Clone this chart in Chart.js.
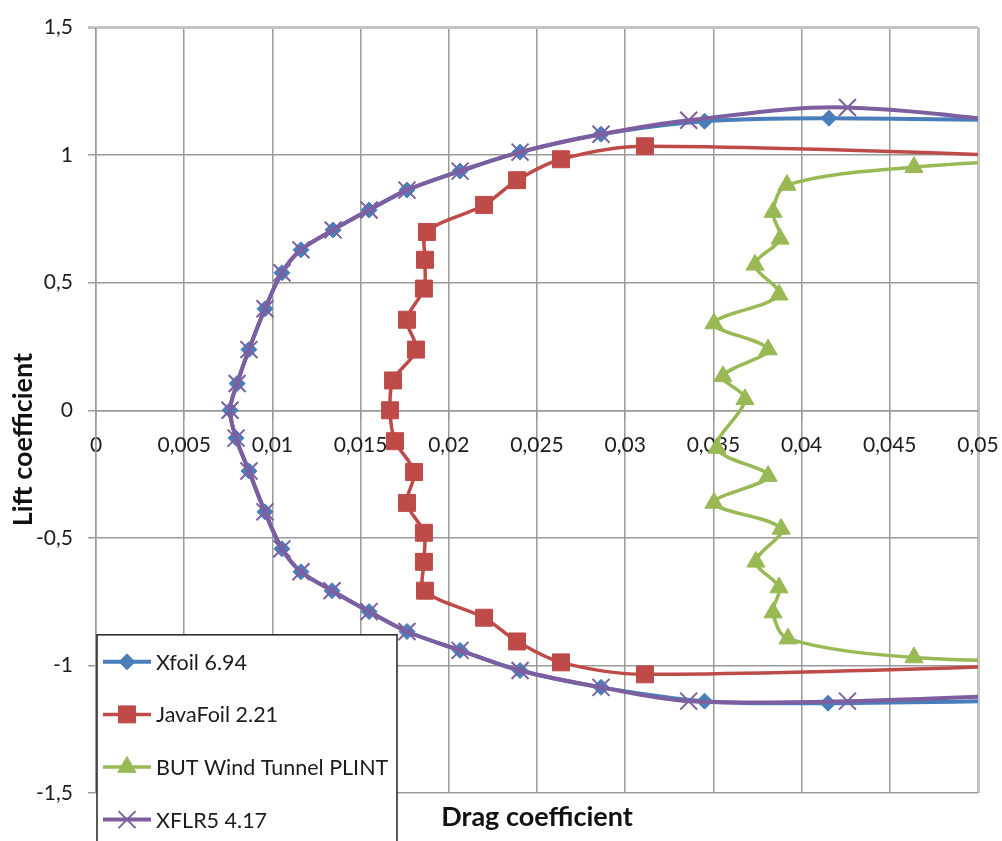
<!DOCTYPE html>
<html>
<head>
<meta charset="utf-8">
<script src="https://cdn.jsdelivr.net/npm/chart.js@4.4.0/dist/chart.umd.min.js"></script>
<style>
  html, body { margin: 0; padding: 0; background: #fff; }
  #wrap { width: 1002px; height: 841px; }
</style>
</head>
<body>
<div id="wrap"><canvas id="polarChart" width="1002" height="841"></canvas></div>
<script>
const seriesNames = ['Xfoil 6.94', 'JavaFoil 2.21', 'BUT Wind Tunnel PLINT', 'XFLR5 4.17'];

// drag / lift pairs read off the polar, bottom branch first
// (the last point of each end sits past 0,05 so the line runs to the edge)
const xfoilCd = [0.058, 0.0415, 0.0345, 0.02863, 0.02404, 0.02064, 0.01763, 0.01548, 0.01338, 0.01162, 0.01054,
  0.00958, 0.00867, 0.00794, 0.0076, 0.0080, 0.00867, 0.00958, 0.01054, 0.01162, 0.01344, 0.01548, 0.01763,
  0.02064, 0.02404, 0.02863, 0.0345, 0.04155, 0.058];
const xfoilCl = [-1.13, -1.148, -1.14, -1.086, -1.02, -0.941, -0.867, -0.789, -0.707, -0.633, -0.543,
  -0.398, -0.238, -0.109, 0, 0.105, 0.238, 0.398, 0.539, 0.629, 0.707, 0.785, 0.863,
  0.9375, 1.012, 1.082, 1.133, 1.145, 1.13];

const javaCd = [0.06, 0.03112, 0.02636, 0.02387, 0.022, 0.01865, 0.01859, 0.01859, 0.01763, 0.01803, 0.01695,
  0.01667, 0.01684, 0.01814, 0.01763, 0.01859, 0.01865, 0.01876, 0.022, 0.02387, 0.02636, 0.03112, 0.06];
const javaCl = [-0.985, -1.035, -0.988, -0.906, -0.813, -0.707, -0.594, -0.48, -0.363, -0.242, -0.121,
  0, 0.117, 0.238, 0.355, 0.477, 0.59, 0.699, 0.805, 0.902, 0.984, 1.035, 0.98];

const tunnelCd = [0.056, 0.04637, 0.03923, 0.03838, 0.03872, 0.03741, 0.03884, 0.03503, 0.0381, 0.0352,
  0.03679, 0.03554, 0.0381, 0.03503, 0.03872, 0.03736, 0.03878, 0.03838, 0.03917, 0.04637, 0.056];
const tunnelCl = [-0.985, -0.969, -0.895, -0.793, -0.695, -0.594, -0.465, -0.363, -0.258, -0.148,
  0.043, 0.133, 0.238, 0.34, 0.453, 0.57, 0.672, 0.777, 0.883, 0.953, 0.99];

const xflrCd = [0.058, 0.0426, 0.0336, 0.02863, 0.02404, 0.02064, 0.01763, 0.01548, 0.01338, 0.01162, 0.01054,
  0.00958, 0.00867, 0.00794, 0.0076, 0.0080, 0.00867, 0.00958, 0.01054, 0.01162, 0.01344, 0.01548, 0.01763,
  0.02064, 0.02404, 0.02863, 0.0336, 0.0426, 0.058];
const xflrCl = [-1.10, -1.14, -1.14, -1.086, -1.02, -0.941, -0.867, -0.789, -0.707, -0.633, -0.543,
  -0.398, -0.238, -0.109, 0, 0.105, 0.238, 0.398, 0.539, 0.629, 0.707, 0.785, 0.863,
  0.9375, 1.012, 1.082, 1.137, 1.187, 1.08];

const xTickLabels = ['0', '0,005', '0,01', '0,015', '0,02', '0,025', '0,03', '0,035', '0,04', '0,045', '0,05'];
const yTickLabels = ['-1,5', '-1', '-0,5', '0', '0,5', '1', '1,5'];

const fontName = 'Lato, "Liberation Sans", sans-serif';
const textColor = '#1c1c1c';
const gridColor = '#9a9a9a';

function toPoints(xs, ys) {
  return xs.map((x, i) => ({ x: x, y: ys[i] }));
}

function series(label, xs, ys, color, style, radius, width, order) {
  return {
    label: label,
    data: toPoints(xs, ys),
    showLine: true,
    borderColor: color,
    backgroundColor: color,
    borderWidth: width,
    pointStyle: style,
    pointRadius: radius,
    pointHoverRadius: radius,
    pointBackgroundColor: color,
    pointBorderColor: color,
    pointBorderWidth: style === 'crossRot' ? 2 : 1,
    tension: 0.33,
    order: order
  };
}

// boxed key in the lower left corner and the off-centre lift title, like the original
const cornerLegend = {
  id: 'cornerLegend',
  afterDraw(chart) {
    const ctx = chart.ctx;
    const area = chart.chartArea;
    const left = area.left + 1;
    const top = chart.scales.y.getPixelForValue(-0.88);
    ctx.save();
    ctx.fillStyle = '#fff';
    ctx.fillRect(left, top, 300, 230);
    ctx.strokeStyle = '#222';
    ctx.lineWidth = 1.5;
    ctx.strokeRect(left, top, 300, 230);
    chart.data.datasets.forEach((ds, i) => {
      const y = top + 27 + i * 52.6;
      ctx.strokeStyle = ds.borderColor;
      ctx.lineWidth = ds.borderWidth;
      ctx.beginPath();
      ctx.moveTo(left + 6, y);
      ctx.lineTo(left + 54, y);
      ctx.stroke();
      ctx.fillStyle = ds.pointBackgroundColor;
      ctx.strokeStyle = ds.pointBorderColor;
      ctx.lineWidth = ds.pointBorderWidth;
      Chart.helpers.drawPoint(ctx, { pointStyle: ds.pointStyle, radius: ds.pointRadius, borderWidth: ds.pointBorderWidth }, left + 30, y);
      ctx.fillStyle = textColor;
      ctx.font = '21.5px ' + fontName;
      ctx.textBaseline = 'middle';
      ctx.textAlign = 'left';
      ctx.fillText(ds.label, left + 59, y + 1);
    });

    ctx.translate(23, chart.scales.y.getPixelForValue(-0.115));
    ctx.rotate(-Math.PI / 2);
    ctx.fillStyle = '#111';
    ctx.font = 'bold 27px ' + fontName;
    ctx.textAlign = 'center';
    ctx.textBaseline = 'middle';
    ctx.fillText('Lift coefficient', 0, 0);
    ctx.restore();
  }
};

const ctx = document.getElementById('polarChart');

new Chart(ctx, {
  type: 'scatter',
  data: {
    datasets: [
      series(seriesNames[0], xfoilCd, xfoilCl, '#4a7ebb', 'rectRot', 8, 4, 4),
      series(seriesNames[1], javaCd, javaCl, '#be4b48', 'rect', 12, 3.5, 3),
      series(seriesNames[2], tunnelCd, tunnelCl, '#98b954', 'triangle', 10.5, 3.5, 2),
      series(seriesNames[3], xflrCd, xflrCl, '#7d5fa0', 'crossRot', 12, 4, 1)
    ]
  },
  options: {
    responsive: false,
    animation: false,
    layout: { padding: { top: 25, right: 24, left: 0, bottom: 0 } },
    elements: { line: { capBezierPoints: false } },
    plugins: {
      legend: { display: false },
      tooltip: { enabled: false }
    },
    scales: {
      x: {
        type: 'linear',
        position: { y: 0 },
        min: 0,
        max: 0.05,
        ticks: {
          stepSize: 0.005,
          padding: 15,
          color: textColor,
          font: { family: fontName, size: 21 },
          callback: (value, index) => xTickLabels[index]
        },
        grid: {
          color: (c) => c.index === xTickLabels.length - 1 ? '#c4c4c4' : gridColor,
          lineWidth: (c) => c.index === xTickLabels.length - 1 ? 3 : 1.5,
          tickLength: 7
        },
        border: { color: gridColor, width: 1.5 },
        afterFit: (scale) => { scale.paddingLeft = 0; scale.paddingRight = 0; }
      },
      x2: {
        type: 'linear',
        axis: 'x',
        position: 'bottom',
        min: 0,
        max: 0.05,
        ticks: { display: false },
        grid: { display: false, drawTicks: false },
        border: { display: false },
        title: {
          display: true,
          text: 'Drag coefficient',
          color: '#111',
          font: { family: fontName, size: 27, weight: 'bold' },
          padding: { top: 0, bottom: 8 }
        },
        afterFit: (scale) => { scale.height = 48; scale.paddingLeft = 0; scale.paddingRight = 0; }
      },
      y: {
        type: 'linear',
        position: 'left',
        min: -1.5,
        max: 1.5,
        ticks: {
          stepSize: 0.5,
          padding: 15,
          color: textColor,
          font: { family: fontName, size: 21 },
          callback: (value, index) => yTickLabels[index]
        },
        grid: {
          color: (c) => c.index === yTickLabels.length - 1 ? '#c4c4c4' : gridColor,
          lineWidth: (c) => c.index === yTickLabels.length - 1 ? 3 : 1.5,
          tickLength: 8
        },
        border: { color: gridColor, width: 1.5 },
        afterFit: (scale) => { scale.width = 96; }
      }
    }
  },
  plugins: [cornerLegend]
});
</script>
</body>
</html>
